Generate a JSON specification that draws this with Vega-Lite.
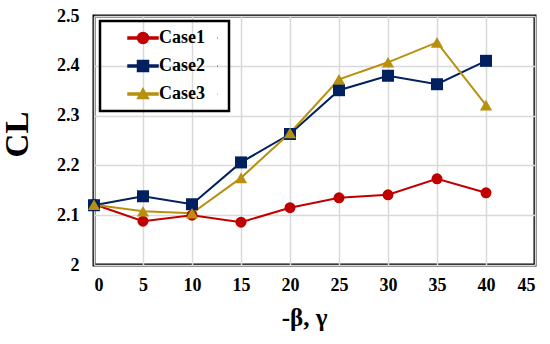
{
  "$schema": "https://vega.github.io/schema/vega-lite/v6.json",
  "autosize": {"type": "none"},
  "width": 441,
  "height": 249,
  "padding": {"left": 94, "top": 16, "right": 15, "bottom": 79},
  "background": "white",
  "config": {
    "view": {"stroke": "black", "strokeWidth": 3},
    "font": "Liberation Serif"
  },
  "data": {
    "values": [
      {"x": 0, "cl": 2.122, "case": "Case1"},
      {"x": 5, "cl": 2.088, "case": "Case1"},
      {"x": 10, "cl": 2.100, "case": "Case1"},
      {"x": 15, "cl": 2.086, "case": "Case1"},
      {"x": 20, "cl": 2.115, "case": "Case1"},
      {"x": 25, "cl": 2.135, "case": "Case1"},
      {"x": 30, "cl": 2.141, "case": "Case1"},
      {"x": 35, "cl": 2.173, "case": "Case1"},
      {"x": 40, "cl": 2.145, "case": "Case1"},
      {"x": 0, "cl": 2.120, "case": "Case2"},
      {"x": 5, "cl": 2.138, "case": "Case2"},
      {"x": 10, "cl": 2.122, "case": "Case2"},
      {"x": 15, "cl": 2.206, "case": "Case2"},
      {"x": 20, "cl": 2.263, "case": "Case2"},
      {"x": 25, "cl": 2.351, "case": "Case2"},
      {"x": 30, "cl": 2.380, "case": "Case2"},
      {"x": 35, "cl": 2.363, "case": "Case2"},
      {"x": 40, "cl": 2.410, "case": "Case2"},
      {"x": 0, "cl": 2.121, "case": "Case3"},
      {"x": 5, "cl": 2.108, "case": "Case3"},
      {"x": 10, "cl": 2.104, "case": "Case3"},
      {"x": 15, "cl": 2.175, "case": "Case3"},
      {"x": 20, "cl": 2.265, "case": "Case3"},
      {"x": 25, "cl": 2.373, "case": "Case3"},
      {"x": 30, "cl": 2.407, "case": "Case3"},
      {"x": 35, "cl": 2.447, "case": "Case3"},
      {"x": 40, "cl": 2.321, "case": "Case3"}
    ]
  },
  "encoding": {
    "x": {
      "field": "x", "type": "quantitative",
      "scale": {"domain": [0, 45], "nice": false},
      "axis": {
        "values": [0, 5, 10, 15, 20, 25, 30, 35, 40, 45],
        "title": "-β, γ",
        "titleFont": "Liberation Serif", "titleFontSize": 25, "titleFontWeight": "bold", "titleColor": "black",
        "titlePadding": 11, "titleX": 210,
        "labelFont": "Liberation Serif", "labelFontSize": 18, "labelFontWeight": "bold", "labelColor": "black",
        "labelPadding": 11, "ticks": false, "domain": false,
        "grid": true, "gridColor": "#d9d9d9", "gridWidth": 1.5
      }
    },
    "y": {
      "field": "cl", "type": "quantitative",
      "scale": {"domain": [2, 2.5], "nice": false, "zero": false},
      "axis": {
        "values": [2, 2.1, 2.2, 2.3, 2.4, 2.5],
        "format": ".1~f",
        "title": "CL",
        "titleFont": "Liberation Serif", "titleFontSize": 33, "titleFontWeight": "bold", "titleColor": "black",
        "titlePadding": 22, "titleY": 118,
        "labelFont": "Liberation Serif", "labelFontSize": 18, "labelFontWeight": "bold", "labelColor": "black",
        "labelPadding": 15, "ticks": false, "domain": false,
        "grid": true, "gridColor": "#d9d9d9", "gridWidth": 1.5
      }
    },
    "color": {
      "field": "case", "type": "nominal",
      "scale": {"domain": ["Case1", "Case2", "Case3"], "range": ["#C00000", "#002060", "#B8900F"]},
      "legend": {
        "title": null,
        "orient": "none", "legendX": 6, "legendY": 5,
        "strokeColor": "black",
        "padding": 8,
        "rowPadding": 10,
        "symbolOffset": 26,
        "labelOffset": 7,
        "labelFont": "Liberation Serif", "labelFontSize": 18, "labelFontWeight": "bold", "labelColor": "black",
        "symbolOpacity": 1,
        "symbolSize": 100,
        "encode": {"legend": {"update": {"strokeWidth": {"value": 2.5}}}}
      }
    }
  },
  "layer": [
    {"mark": {"type": "line", "strokeWidth": 2}},
    {
      "transform": [{"filter": "datum.case == 'Case1'"}],
      "mark": {"type": "point", "shape": "circle", "filled": true, "opacity": 1, "size": 121}
    },
    {
      "transform": [{"filter": "datum.case == 'Case2'"}],
      "mark": {"type": "point", "shape": "square", "filled": true, "opacity": 1, "size": 144}
    },
    {
      "transform": [{"filter": "datum.case == 'Case3'"}],
      "mark": {"type": "point", "shape": "triangle-up", "filled": true, "opacity": 1, "size": 150}
    },
    {
      "mark": {"type": "point", "filled": true, "opacity": 0, "size": 100},
      "encoding": {
        "shape": {
          "field": "case", "type": "nominal",
          "scale": {
            "domain": ["Case1", "Case2", "Case3"],
            "range": [
              "M-3,-0.2H-1.05V0.2H-3Z M1.05,-0.2H3V0.2H1.05Z M1.1,0A1.1,1.1 0 1,1 -1.1,0A1.1,1.1 0 1,1 1.1,0Z M14.8,0H14.9Z",
              "M-3,-0.2H-1V0.2H-3Z M1,-0.2H3V0.2H1Z M-1.1,-1.1H1.1V1.1H-1.1Z M14.8,0H14.9Z",
              "M-3,-0.2H3V0.2H-3Z M0,-1.1L1.1,0.9H-1.1Z M14.8,0H14.9Z"
            ]
          },
          "legend": {
            "title": null,
            "orient": "none", "legendX": 6, "legendY": 5,
            "strokeColor": "black",
            "padding": 8,
            "rowPadding": 10,
            "symbolOffset": 26,
            "labelOffset": 7,
            "labelFont": "Liberation Serif", "labelFontSize": 18, "labelFontWeight": "bold", "labelColor": "black",
            "symbolOpacity": 1,
            "symbolSize": 100,
            "encode": {"legend": {"update": {"strokeWidth": {"value": 2.5}}}}
          }
        }
      }
    }
  ]
}
